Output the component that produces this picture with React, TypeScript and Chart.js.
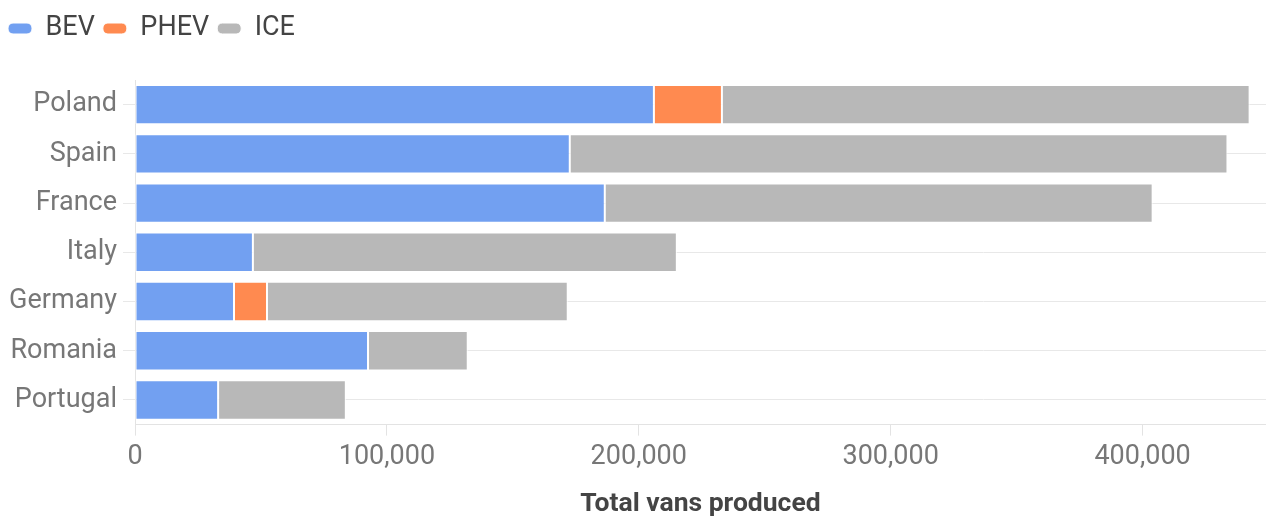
import React, { useEffect, useRef } from "react";
import { Chart, registerables } from "chart.js";

Chart.register(...registerables);

const countries = ["Poland", "Spain", "France", "Italy", "Germany", "Romania", "Portugal"];
const bevValues = [206000, 172600, 186500, 46800, 39300, 92500, 33000];
const phevValues = [27000, 0, 0, 0, 13100, 0, 0];
const iceValues = [209500, 261100, 217500, 168300, 119400, 39600, 50700];
const xTickValues = [0, 100000, 200000, 300000, 400000];
const xAxisTitle = "Total vans produced";

export default function App() {
  const ref = useRef<HTMLCanvasElement | null>(null);

  useEffect(() => {
    if (!ref.current) return;
    const legendMargin = {
      id: "legendMargin",
      beforeInit(chart: any) {
        const fit = chart.legend.fit;
        chart.legend.fit = function () {
          fit.bind(chart.legend)();
          this.height += 28;
        };
      },
    };
    const chart = new Chart(ref.current, {
      type: "bar",
      data: {
        labels: countries,
        datasets: [
          { label: "BEV", data: bevValues, backgroundColor: "#72A0F1" },
          { label: "PHEV", data: phevValues, backgroundColor: "#FF8A50" },
          { label: "ICE", data: iceValues, backgroundColor: "#B8B8B8" },
        ].map((d) => ({
          ...d,
          borderColor: "#ffffff",
          borderWidth: 1,
          borderSkipped: false,
          barPercentage: 0.8,
          categoryPercentage: 1,
        })),
      },
      plugins: [legendMargin],
      options: {
        indexAxis: "y",
        animation: false,
        responsive: true,
        maintainAspectRatio: false,
        layout: { padding: { left: 0, right: 0, top: 7, bottom: 0 } },
        plugins: {
          tooltip: { enabled: false },
          legend: {
            position: "top",
            align: "start",
            labels: {
              font: { family: "Roboto", size: 27 },
              color: "#444",
              boxWidth: 24,
              boxHeight: 11,
              useBorderRadius: true,
              borderRadius: 5,
              padding: 8,
            },
          },
        },
        scales: {
          x: {
            stacked: true,
            min: 0,
            max: 449000,
            afterBuildTicks: (scale: any) => {
              scale.ticks = xTickValues.map((v) => ({ value: v }));
            },
            ticks: {
              includeBounds: false,
              color: "#777",
              font: { family: "Roboto", size: 27 },
              padding: 5,
              callback: (v: any) => Number(v).toLocaleString("en-US"),
            },
            grid: {
              drawOnChartArea: false,
              drawTicks: true,
              tickLength: 11,
              color: "#e3e3e3",
            },
            border: { color: "#e3e3e3" },
            title: {
              display: true,
              text: xAxisTitle,
              color: "#444",
              font: { family: "Roboto", size: 26.5, weight: "bold", lineHeight: 1 },
              padding: { top: 13.5, bottom: -2 },
            },
          },
          y: {
            stacked: true,
            afterFit: (scale: any) => {
              scale.width = 135;
            },
            ticks: {
              color: "#777",
              font: { family: "Roboto", size: 27 },
              padding: 6,
            },
            grid: {
              offset: false,
              color: "#e8e8e8",
              tickLength: 12,
            },
            border: { color: "#e3e3e3" },
          },
        },
      },
    } as any);
    return () => chart.destroy();
  }, []);

  return (
    <div style={{ position: "fixed", left: 0, top: 0, width: 1266, height: 516 }}>
      <canvas ref={ref} />
    </div>
  );
}
